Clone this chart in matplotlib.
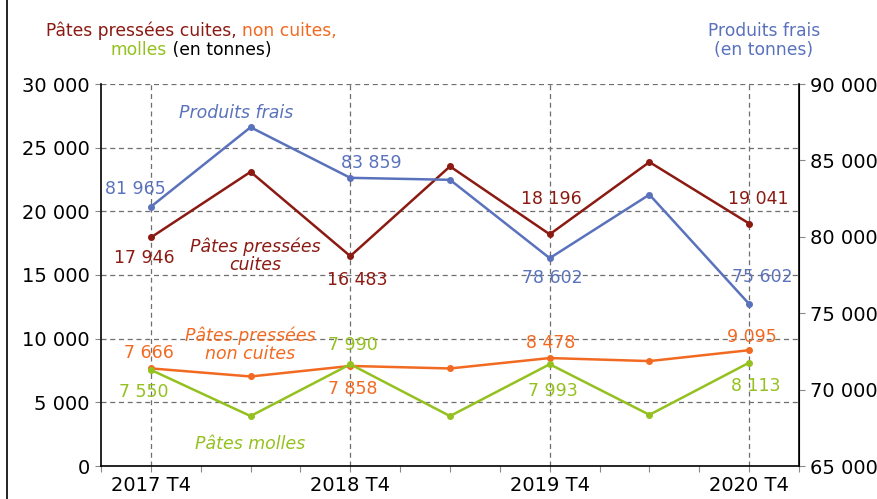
import matplotlib
matplotlib.use("Agg")
import matplotlib.pyplot as plt
from matplotlib.lines import Line2D
from matplotlib.ticker import FuncFormatter, MultipleLocator

# quarters, counted from 2017 T3 (=0)
quarters = [1, 3, 5, 7, 9, 11, 13]
tick_quarters = [1, 5, 9, 13]
tick_labels = ["2017 T4", "2018 T4", "2019 T4", "2020 T4"]

cuites = [17946, 23100, 16483, 23530, 18196, 23870, 19041]
non_cuites = [7666, 7030, 7858, 7660, 8478, 8240, 9095]
molles = [7550, 3920, 7990, 3920, 7993, 4020, 8113]
frais = [81965, 87170, 83859, 83730, 78602, 82760, 75602]

RED = "#8B1A12"
ORANGE = "#F26A22"
GREEN = "#94C11F"
BLUE = "#5A72BC"

W, H = 878, 499


def fmt(v, pos=None):
    return f"{int(v):,}".replace(",", " ")


fig = plt.figure(figsize=(W / 100, H / 100), dpi=100)
ax = fig.add_axes([101 / W, 1 - 466 / H, 698 / W, 382 / H])
ax2 = ax.twinx()

ax.set_xlim(0, 14)
ax.set_ylim(0, 30000)
ax2.set_ylim(65000, 90000)

ax.plot(quarters, cuites, color=RED, lw=1.8, marker="o", ms=4, zorder=3)
ax.plot(quarters, non_cuites, color=ORANGE, lw=1.8, marker="o", ms=4, zorder=3)
ax.plot(quarters, molles, color=GREEN, lw=1.8, marker="o", ms=4, zorder=3)
ax2.plot(quarters, frais, color=BLUE, lw=1.8, marker="o", ms=4, zorder=3)

# grid
ax.yaxis.set_major_locator(MultipleLocator(5000))
ax.set_xticks(tick_quarters)
ax.set_xticklabels(tick_labels)
ax.xaxis.set_minor_locator(MultipleLocator(1))
ax.grid(True, which="major", color="#6f6f6f", ls=(0, (4, 3)), lw=0.9)
ax.set_axisbelow(True)
ax.yaxis.set_major_formatter(FuncFormatter(fmt))
ax2.yaxis.set_major_locator(MultipleLocator(5000))
ax2.yaxis.set_major_formatter(FuncFormatter(fmt))

for a in (ax, ax2):
    a.spines["top"].set_visible(False)
    a.tick_params(axis="both", which="both", labelsize=14, color="#888888",
                  length=4, width=0.8, pad=4)
ax.tick_params(axis="x", pad=3)
ax.spines["left"].set_linewidth(1.2)
ax.spines["bottom"].set_linewidth(1.2)
ax2.spines["right"].set_linewidth(1.2)
ax2.spines["left"].set_visible(False)
ax2.spines["bottom"].set_visible(False)

# data labels: (series, index, axis, colour, offset px)
labels = [
    (cuites, 0, ax, RED, (-7, -21)),
    (cuites, 2, ax, RED, (7, -24)),
    (cuites, 4, ax, RED, (2, 35)),
    (cuites, 6, ax, RED, (9, 25)),
    (frais, 0, ax2, BLUE, (-15, 18)),
    (frais, 2, ax2, BLUE, (21, 15)),
    (frais, 4, ax2, BLUE, (3, -20)),
    (frais, 6, ax2, BLUE, (13, 27)),
    (non_cuites, 0, ax, ORANGE, (-2, 15)),
    (non_cuites, 2, ax, ORANGE, (2, -23)),
    (non_cuites, 4, ax, ORANGE, (1, 15)),
    (non_cuites, 6, ax, ORANGE, (3, 13)),
    (molles, 0, ax, GREEN, (-7, -22)),
    (molles, 2, ax, GREEN, (3, 19)),
    (molles, 4, ax, GREEN, (3, -27)),
    (molles, 6, ax, GREEN, (7, -23)),
]
for series, i, a, col, off in labels:
    a.annotate(fmt(series[i]), (quarters[i], series[i]), xytext=off,
               textcoords="offset pixels", ha="center", va="center",
               color=col, fontsize=12.5, zorder=5)

# series names
fig.text(236 / W, 1 - 113 / H, "Produits frais", color=BLUE, style="italic",
         fontsize=12.5, ha="center", va="center")
fig.text(255 / W, 1 - 256 / H, "Pâtes pressées\ncuites", color=RED, style="italic",
         fontsize=12.5, ha="center", va="center", linespacing=1.0)
fig.text(250 / W, 1 - 345 / H, "Pâtes pressées\nnon cuites", color=ORANGE, style="italic",
         fontsize=12.5, ha="center", va="center", linespacing=1.0)
fig.text(250 / W, 1 - 444 / H, "Pâtes molles", color=GREEN, style="italic",
         fontsize=12.5, ha="center", va="center")

# axis headers, multicoloured lines centred on x=191
fig.canvas.draw()
r = fig.canvas.get_renderer()


def header_line(parts, cx, cy, size=12.3):
    texts = [fig.text(0, 1 - cy / H, s, color=c, fontsize=size, ha="left", va="center")
             for s, c in parts]
    widths = [t.get_window_extent(r).width for t in texts]
    x = cx - sum(widths) / 2
    for t, w in zip(texts, widths):
        t.set_x(x / W)
        x += w


header_line([("Pâtes pressées cuites, ", RED), ("non cuites,", ORANGE)], 191, 31)
header_line([("molles", GREEN), (" (en tonnes)", "black")], 191, 50)
fig.text(764 / W, 1 - 31 / H, "Produits frais", color=BLUE, fontsize=12.3,
         ha="center", va="center")
fig.text(764 / W, 1 - 50 / H, "(en tonnes)", color=BLUE, fontsize=12.3,
         ha="center", va="center")

# frame line on the left
fig.add_artist(Line2D([7 / W, 7 / W], [0, 1], color="black", lw=1.2,
                      transform=fig.transFigure))

fig.savefig("out.png", dpi=100)
